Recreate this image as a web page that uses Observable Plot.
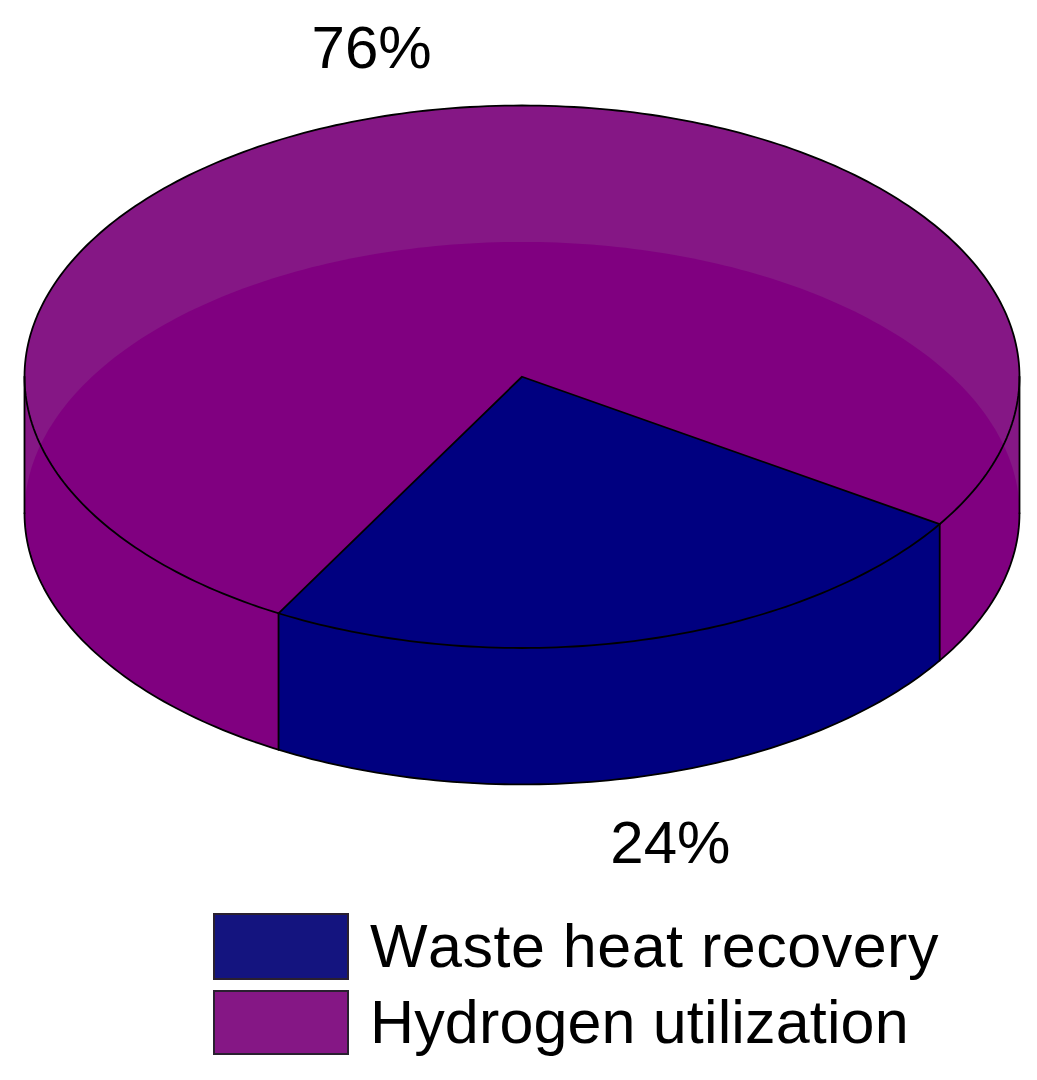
<!DOCTYPE html>
<html>
<head>
<meta charset="utf-8">
<script src="https://cdn.jsdelivr.net/npm/d3@7"></script>
<script src="https://cdn.jsdelivr.net/npm/@observablehq/plot@0.6"></script>
<style>
html,body{margin:0;padding:0;background:#fff;}
#chart svg{display:block;}
#legend{position:relative;height:175px;font-family:"Liberation Sans",Arial,sans-serif;font-size:61px;font-kerning:none;color:#000;}
.row{position:absolute;left:213px;display:flex;align-items:center;}
.sw{width:132px;box-sizing:content-box;border:2px solid #2a2030;}
.lab{margin-left:21px;white-space:nowrap;line-height:1;}
</style>
</head>
<body>
<div id="chart"></div>
<div id="legend"></div>
<script>
const categories = ["Waste heat recovery", "Hydrogen utilization"];
const shares = [24, 76];
const shareLabels = ["24%", "76%"];
const faceColors = ["#000080", "#800080"];
const keyColors = ["#14147f", "#851785"];
const rimColor = "#851785";
const startAngle = 32.9; // degrees clockwise from 3 o'clock
const depth = 0.503;     // pie thickness in units of the ellipse's vertical radius
const labelRadius = 1.25;

const rad = d => d * Math.PI / 180;
const pt = (deg, dz = 0) => ({x: Math.cos(rad(deg)), y: Math.sin(rad(deg)) + dz});
const arc = (a, b, dz = 0) => {
  const n = Math.max(2, Math.ceil(Math.abs(b - a)));
  return d3.range(n + 1).map(i => pt(a + (b - a) * i / n, dz));
};

const a0 = startAngle;
const a1 = a0 + shares[0] * 3.6;
const mid0 = (a0 + a1) / 2;
const mid1 = a1 + shares[1] * 1.8;

const silhouette = [...arc(0, 180, depth), ...arc(180, 360, 0)];
const baseEllipse = arc(0, 360, depth);
const topEllipse = arc(0, 360, 0);
const wall = [...arc(a0, a1, 0), ...arc(a1, a0, depth)];
const sector = [{x: 0, y: 0}, ...arc(a0, a1, 0)];
const outline = {x: "x", y: "y", stroke: "#000", strokeWidth: 1.8, fill: "none"};
const solid = c => ({x: "x", y: "y", fill: c, stroke: "none"});

const labelData = [
  {text: shareLabels[0], x: labelRadius * Math.cos(rad(mid0)), y: labelRadius * Math.sin(rad(mid0)) + depth},
  {text: shareLabels[1], x: labelRadius * Math.cos(rad(mid1)), y: labelRadius * Math.sin(rad(mid1))}
];

const chart = Plot.plot({
  width: 1037,
  height: 905,
  margin: 0,
  axis: null,
  x: {domain: [-1, 1], range: [24, 1019]},
  y: {domain: [-1, 1], range: [105, 647.5]},
  marks: [
    Plot.line(silhouette, solid(rimColor)),
    Plot.line(baseEllipse, solid(faceColors[1])),
    Plot.line(wall, solid(faceColors[0])),
    Plot.line(sector, solid(faceColors[0])),
    Plot.line(topEllipse, outline),
    Plot.line(arc(0, 180, depth), outline),
    Plot.line([pt(0), pt(0, depth)], outline),
    Plot.line([pt(180), pt(180, depth)], outline),
    Plot.line([pt(a0), pt(a0, depth)], outline),
    Plot.line([pt(a1), pt(a1, depth)], outline),
    Plot.line([pt(a1), {x: 0, y: 0}, pt(a0)], outline),
    Plot.text(labelData, {x: "x", y: "y", text: "text", dx: -1, dy: 1, fontSize: 60, fontFamily: "Liberation Sans, Arial, sans-serif", fill: "#000"})
  ]
});
document.getElementById("chart").append(chart);

const legend = document.getElementById("legend");
const rowTops = [8, 85];
const rowHeights = [63, 61];
const rowSpacing = ["0.5px", "0.15px"];
categories.forEach((c, i) => {
  const row = document.createElement("div");
  row.className = "row";
  row.style.top = rowTops[i] + "px";
  const sw = document.createElement("div");
  sw.className = "sw";
  sw.style.background = keyColors[i];
  sw.style.height = rowHeights[i] + "px";
  const lab = document.createElement("div");
  lab.className = "lab";
  lab.style.letterSpacing = rowSpacing[i];
  lab.textContent = c;
  row.append(sw, lab);
  legend.append(row);
});
</script>
</body>
</html>
